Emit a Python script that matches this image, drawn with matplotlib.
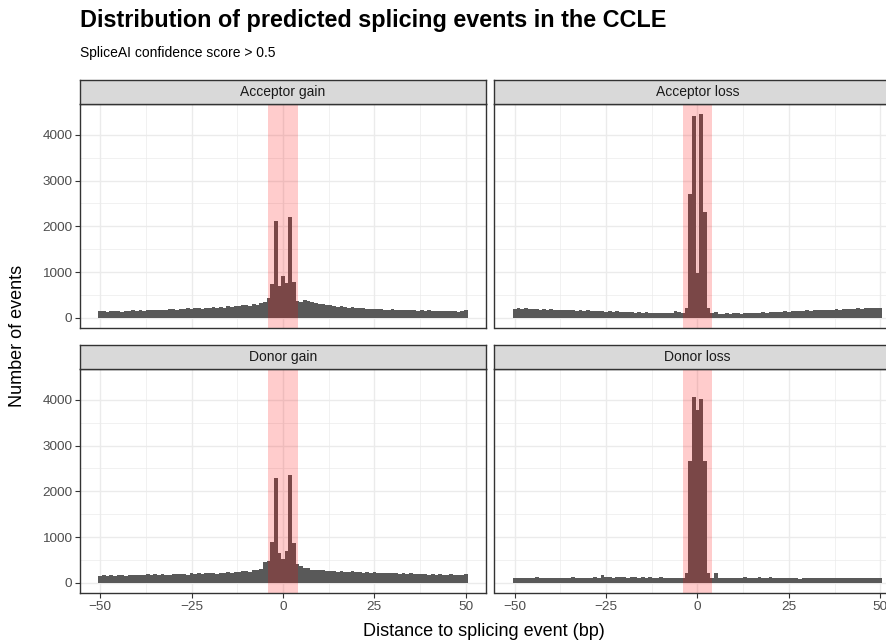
import numpy as np
import matplotlib.pyplot as plt

plt.rcParams['font.family'] = ['Liberation Sans', 'DejaVu Sans']

# distance bins -50..50 (bp)
distance = list(range(-50, 51))

acceptor_gain = [
    140, 150, 135, 145, 150, 140, 130, 150, 145, 160,
    150, 165, 155, 170, 160, 175, 165, 180, 170, 190,
    185, 175, 200, 190, 210, 195, 205, 220, 200, 215,
    210, 230, 220, 240, 225, 250, 235, 260, 255, 270,
    280, 265, 300, 290, 320, 335,
    430, 740, 2120, 700, 920, 760, 2210, 790, 370,
    340, 390, 370, 350, 330, 300, 310, 280, 270, 260,
    240, 250, 230, 220, 235, 210, 205, 220, 200, 190,
    195, 185, 200, 180, 175, 190, 170, 180, 165, 175,
    160, 170, 155, 165, 150, 160, 145, 155, 150, 140,
    150, 140, 145, 135, 150, 160,
]
acceptor_loss = [
    200, 210, 190, 205, 195, 185, 200, 180, 190, 175,
    185, 170, 180, 165, 175, 160, 170, 155, 165, 150,
    160, 145, 155, 140, 150, 135, 145, 130, 140, 125,
    135, 120, 130, 115, 125, 110, 120, 105, 115, 100,
    110, 100, 115, 105, 150, 120,
    110, 210, 2710, 4400, 975, 4450, 2320, 210, 100,
    130, 85, 80, 95, 90, 100, 95, 85, 100, 105,
    110, 100, 115, 120, 110, 125, 130, 120, 135, 140,
    135, 145, 150, 140, 155, 160, 150, 165, 170, 160,
    175, 170, 180, 185, 175, 190, 195, 185, 200, 205,
    195, 210, 215, 205, 220, 225,
]
donor_gain = [
    150, 160, 145, 165, 155, 170, 160, 150, 175, 165,
    170, 160, 180, 200, 175, 185, 170, 190, 180, 175,
    195, 185, 200, 190, 175, 205, 195, 210, 190, 220,
    205, 215, 200, 225, 210, 230, 220, 240, 235, 250,
    260, 245, 280, 270, 310, 450,
    470, 895, 2280, 655, 530, 690, 2365, 860, 415,
    360, 320, 330, 290, 280, 270, 285, 260, 250, 265,
    245, 255, 240, 235, 250, 230, 240, 225, 235, 220,
    230, 215, 225, 210, 220, 205, 215, 200, 210, 195,
    205, 190, 200, 185, 195, 180, 190, 175, 185, 180,
    175, 185, 170, 180, 175, 190,
]
donor_loss = [
    100, 110, 95, 115, 105, 100, 120, 95, 110, 105,
    100, 115, 105, 95, 110, 100, 120, 105, 95, 110,
    115, 105, 125, 110, 160, 120, 130, 115, 125, 120,
    130, 115, 125, 120, 110, 125, 115, 120, 110, 115,
    120, 110, 105, 115, 100, 95,
    100, 205, 2655, 4070, 3785, 4025, 2655, 225, 95,
    210, 100, 110, 95, 105, 115, 100, 110, 120, 105,
    115, 100, 125, 110, 105, 120, 100, 110, 95, 105,
    100, 95, 105, 90, 100, 110, 95, 105, 100, 110,
    105, 95, 110, 100, 115, 105, 95, 110, 105, 100,
    110, 100, 115, 105, 110, 100,
]

panels = ["Acceptor gain", "Acceptor loss", "Donor gain", "Donor loss"]
series = [acceptor_gain, acceptor_loss, donor_gain, donor_loss]
highlight = (-4, 4)

W, H = 887, 642
fig = plt.figure(figsize=(W / 100, H / 100), dpi=100)


def box(x0, y0, x1, y1):
    return [x0 / W, 1 - y1 / H, (x1 - x0) / W, (y1 - y0) / H]


ymax = max(max(s) for s in series)
ylim = (-0.05 * ymax, 1.05 * ymax)
xlim = (-55.55, 55.55)

col_x = [(80, 486), (494.5, 900.5)]
row_y = [(104, 328), (369, 593)]
strip_h = 24
dark = "#333333"

for i, (name, vals) in enumerate(zip(panels, series)):
    r, c = divmod(i, 2)
    x0, x1 = col_x[c]
    y0, y1 = row_y[r]
    ax = fig.add_axes(box(x0, y0, x1, y1))
    ax.set_facecolor("white")
    ax.bar(distance, vals, width=1, color="#595959", lw=0, zorder=2)
    ax.axvspan(*highlight, color="red", alpha=0.2, lw=0, zorder=3)
    ax.set_xlim(xlim)
    ax.set_ylim(ylim)
    ax.set_xticks([-50, -25, 0, 25, 50])
    ax.set_xticks([-37.5, -12.5, 12.5, 37.5], minor=True)
    ax.set_yticks([0, 1000, 2000, 3000, 4000])
    ax.set_yticks([500, 1500, 2500, 3500], minor=True)
    ax.grid(which="major", color="#EBEBEB", lw=1.0, zorder=0)
    ax.grid(which="minor", color="#EBEBEB", lw=0.5, zorder=0)
    ax.set_axisbelow(True)
    for sp in ax.spines.values():
        sp.set_color(dark)
        sp.set_linewidth(1.0)
        sp.set_zorder(5)
    ax.tick_params(which="minor", length=0)
    ax.tick_params(which="major", length=3.5, width=0.8, color=dark,
                   labelsize=9.7, labelcolor="#4D4D4D", pad=2)
    if r == 0:
        ax.tick_params(axis="x", length=0, labelbottom=False)
    if c == 1:
        ax.tick_params(axis="y", length=0, labelleft=False)

    sax = fig.add_axes(box(x0, y0 - strip_h, x1, y0))
    sax.set_facecolor("#D9D9D9")
    sax.set_xticks([])
    sax.set_yticks([])
    for sp in sax.spines.values():
        sp.set_color(dark)
        sp.set_linewidth(1.0)
    sax.text(0.5, 0.5, name, ha="center", va="center", fontsize=10,
             color="#1A1A1A", transform=sax.transAxes)

fig.text(80 / W, 1 - 21 / H, "Distribution of predicted splicing events in the CCLE",
         fontsize=16.8, fontweight="bold", ha="left", va="center")
fig.text(80 / W, 1 - 53 / H, "SpliceAI confidence score > 0.5",
         fontsize=10, ha="left", va="center")
fig.text(484 / W, 1 - 632 / H, "Distance to splicing event (bp)",
         fontsize=13, ha="center", va="center")
fig.text(18 / W, 1 - 336 / H, "Number of events", fontsize=13,
         rotation=90, ha="center", va="center")

fig.savefig("out.png", dpi=100)
